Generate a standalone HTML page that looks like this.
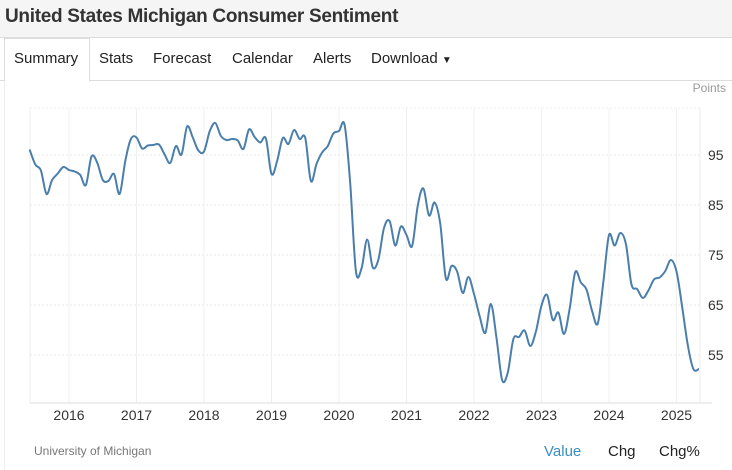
<!DOCTYPE html>
<html><head><style>
body{margin:0;width:732px;height:470px;background:#fff;font-family:"Liberation Sans",sans-serif;overflow:hidden;position:relative}
.hd{position:absolute;left:0;top:0;width:732px;height:37px;background:#f5f5f5;border-bottom:1px solid #ddd}
.hd span{position:absolute;left:5px;top:6px;font-size:19px;font-weight:bold;color:#333;letter-spacing:-0.3px}
.tabs{position:absolute;left:0;top:38px;width:732px;height:42px;border-bottom:1px solid #ddd}
.tab{position:absolute;top:12px;font-size:15px;color:#222}
.sel{position:absolute;left:4px;top:0;width:84px;height:42px;border:1px solid #ddd;border-bottom:1px solid #fff;background:#fff}
.lb{position:absolute;left:4px;top:81px;width:1px;height:389px;background:#eee}
</style></head><body>
<div class="hd"><span>United States Michigan Consumer Sentiment</span></div>
<div class="tabs"><div class="sel"></div>
<div class="tab" style="left:14px">Summary</div>
<div class="tab" style="left:99px">Stats</div>
<div class="tab" style="left:153px">Forecast</div>
<div class="tab" style="left:232px">Calendar</div>
<div class="tab" style="left:313px">Alerts</div>
<div class="tab" style="left:371px">Download <span style="font-size:10px">&#9660;</span></div>
</div>
<div class="lb"></div>
<svg id="s" width="732" height="470" style="position:absolute;left:0;top:0" font-family="Liberation Sans, sans-serif"></svg>
<script>
var d=[96.1,93.1,91.9,87.2,90.0,91.3,92.6,
92.0,91.7,91.0,89.0,94.7,93.5,90.0,89.8,91.2,87.2,93.8,98.2,
98.5,96.3,96.9,97.0,97.1,95.1,93.4,96.8,95.1,100.7,98.5,95.9,
95.7,99.7,101.4,98.8,98.0,98.2,97.9,96.2,100.1,98.6,97.5,98.3,
91.2,93.8,98.4,97.2,100.0,98.2,98.4,89.8,93.2,95.5,96.8,99.3,
99.8,101.0,89.1,71.8,72.3,78.1,72.5,74.1,80.4,81.8,76.9,80.7,
79.0,76.8,84.9,88.3,82.9,85.5,81.2,70.3,72.8,71.7,67.4,70.6,
67.2,62.8,59.4,65.2,58.4,50.0,51.5,58.2,58.6,59.9,56.8,59.7,
64.9,67.0,62.0,63.5,59.2,64.2,71.6,69.5,68.1,63.8,61.3,69.7,
79.0,76.9,79.4,77.2,69.1,68.2,66.4,67.9,70.1,70.5,71.8,74.0,
71.7,64.7,57.0,52.2,52.2];
var h='';
function X(t){return 69+(t-2016)*67.5}
function Y(v){return 155+(95-v)*5}
h+='<text x="726" y="92" font-size="12" fill="#999" text-anchor="end">Points</text>';
[95,85,75,65,55].forEach(function(v){var y=Y(v);
h+='<line x1="30" x2="700" y1="'+y+'" y2="'+y+'" stroke="#e8e8e8" stroke-dasharray="2,2"/>';
h+='<text x="708" y="'+(y+5)+'" font-size="14" fill="#333">'+v+'</text>';});
h+='<line x1="30" x2="700" y1="108" y2="108" stroke="#eee" stroke-dasharray="2,2"/>';
h+='<line x1="30" x2="30" y1="108" y2="403" stroke="#eee"/>';
h+='<line x1="700" x2="700" y1="108" y2="403" stroke="#eee"/>';
for(var yr=2016;yr<=2025;yr++){var x=X(yr);
h+='<line x1="'+x+'" x2="'+x+'" y1="108" y2="403" stroke="#f0f0f0"/>';
h+='<text x="'+x+'" y="420" font-size="14" fill="#333" text-anchor="middle">'+yr+'</text>';}
h+='<line x1="30" x2="712" y1="403" y2="403" stroke="#ddd"/>';
var p=d.map(function(v,i){return [X(2015+5/12+i/12),Y(v)]});
var s='M'+p[0][0].toFixed(1)+','+p[0][1].toFixed(1);
for(var i=0;i<p.length-1;i++){var a=p[i-1]||p[i],b=p[i],c=p[i+1],e=p[i+2]||c;
s+=' C'+(b[0]+(c[0]-a[0])/6).toFixed(1)+','+(b[1]+(c[1]-a[1])/6).toFixed(1)+' '+(c[0]-(e[0]-b[0])/6).toFixed(1)+','+(c[1]-(e[1]-b[1])/6).toFixed(1)+' '+c[0].toFixed(1)+','+c[1].toFixed(1);}
h+='<path d="'+s+'" fill="none" stroke="#4a7eab" stroke-width="2"/>';
h+='<text x="34" y="455" font-size="12" fill="#777">University of Michigan</text>';
h+='<text x="544" y="456" font-size="15" fill="#3a8cc6">Value</text>';
h+='<text x="608" y="456" font-size="15" fill="#222">Chg</text>';
h+='<text x="659" y="456" font-size="15" fill="#222">Chg%</text>';
document.getElementById('s').innerHTML=h;
</script>
</body></html>
